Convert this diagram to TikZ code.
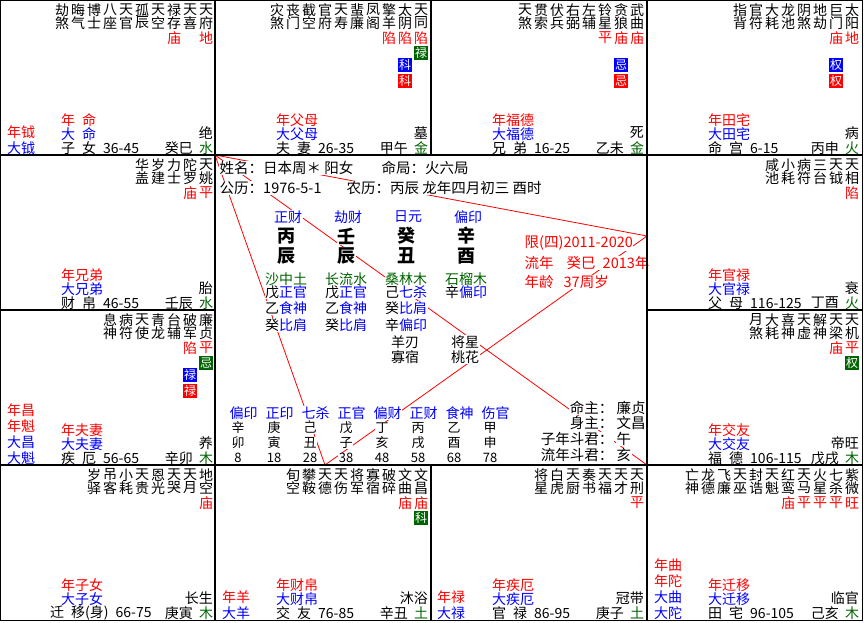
\documentclass[tikz,border=0pt]{standalone}
\usepackage{fontspec}
\setmainfont{Noto Sans CJK SC}
\definecolor{NianClr}{RGB}{255,0,0}
\definecolor{DaClr}{RGB}{0,0,255}
\definecolor{WxClr}{RGB}{0,100,0}
\definecolor{LineClr}{RGB}{255,0,0}

\newcommand{\kong}{\hspace{7pt}}
% star columns of one palace, from the right edge
\newcommand{\Xing}[4]{%
  \foreach \a/\b [count=\i from 0] in {#4}{
    \node[xing] (#1-x\i) at ({#2-7-16*\i},{#3+10}) {\a};
    \node[xing] (#1-y\i) at ({#2-7-16*\i},{#3+23}) {\b};
  }}
% palace names, bottom left
\newcommand{\GongL}[7][61]{%
  \node[gname,text=NianClr] (#2-nian) at ({#3+61},{#4+120}) {#5};
  \node[gname,text=DaClr] (#2-da) at ({#3+61},{#4+134}) {#6};
  \node[gname] (#2-ming) at ({#3+#1},{#4+148}) {#7};}
% ganzhi, wuxing and stage, bottom right
\newcommand{\GongR}[6]{%
  \node[gname,anchor=east] (#1-gz) at ({#2-20},{#3+148}) {#4};
  \node[gname,anchor=center,text=WxClr] (#1-wx) at ({#2-7},{#3+148}) {#5};
  \node[gname,anchor=east] (#1-cs) at ({#2},{#3+133}) {#6};}

\begin{document}
\begin{tikzpicture}[x=1pt,y=-1pt,
  grid/.style={line width=1.2pt},
  sanfang/.style={draw=LineClr,line width=0.8pt},
  xing/.style={inner sep=0pt,font=\fontsize{14}{14}\selectfont},
  liang/.style={inner sep=0pt,text=NianClr,font=\fontsize{14}{14}\selectfont},
  hua/.style={inner sep=0pt,minimum size=14pt,text=white,font=\fontsize{12}{12}\selectfont},
  gname/.style={inner sep=0pt,anchor=west,font=\fontsize{14}{14}\selectfont},
  fu/.style={inner sep=0pt,anchor=west,font=\fontsize{14}{14}\selectfont},
  info/.style={inner sep=0.5pt,fill=white,anchor=west,font=\fontsize{14.5}{15}\selectfont},
  zhong/.style={inner sep=0.5pt,fill=white,font=\fontsize{14}{14}\selectfont},
  gan/.style={inner sep=0.5pt,fill=white,font=\fontsize{18}{18}\bfseries},
  dy/.style={inner sep=0.5pt,fill=white,font=\fontsize{13}{13}\selectfont}]
\useasboundingbox (0,0) rectangle (864,622);

% sanfang sizheng
\coordinate (pSi) at (215,155);
\coordinate (pHai) at (647,465);
\coordinate (pChou) at (325,465);
\coordinate (pYou) at (647,236);
\draw[sanfang] (pSi) -- (pHai);
\draw[sanfang] (pSi) -- (pYou) -- (pChou) -- cycle;

% 巳
\Xing{si}{213}{0}{天/府,天/喜,禄/存,天/空,孤/辰,天/官,八/座,博/士,晦/气,劫/煞}
\node[liang] (si-l0) at (206,38) {地};
\node[liang] (si-l2) at (174,38) {庙};
\node[fu,text=NianClr] (si-f1) at (7,132) {年钺};
\node[fu,text=DaClr] (si-f2) at (7,148) {大钺};
\GongL{si}{0}{0}{年\kong{}命}{大\kong{}命}{子\kong{}女\kong{}36-45}
\GongR{si}{213}{0}{癸巳}{水}{绝}

% 午
\Xing{wu}{428}{0}{天/同,太/阴,擎/羊,凤/阁,蜚/廉,天/寿,官/府,截/空,丧/门,灾/煞}
\node[liang] (wu-l0) at (421,38) {陷};
\node[liang] (wu-l1) at (405,38) {陷};
\node[liang] (wu-l2) at (389,38) {陷};
\node[hua,fill=WxClr] (wu-h0) at (421,53) {禄};
\node[hua,fill=DaClr] (wu-h1) at (405,65) {科};
\node[hua,fill=NianClr] (wu-h2) at (405,81) {科};
\GongL{wu}{215}{0}{年父母}{大父母}{夫\kong{}妻\kong{}26-35}
\GongR{wu}{428}{0}{甲午}{金}{墓}

% 未
\Xing{wei}{644}{0}{武/曲,贪/狼,铃/星,左/辅,右/弼,伏/兵,贯/索,天/煞}
\node[liang] (wei-l0) at (637,38) {庙};
\node[liang] (wei-l1) at (621,38) {庙};
\node[liang] (wei-l2) at (605,38) {平};
\node[hua,fill=DaClr] (wei-h1) at (621,65) {忌};
\node[hua,fill=NianClr] (wei-h2) at (621,81) {忌};
\GongL{wei}{431}{0}{年福德}{大福德}{兄\kong{}弟\kong{}16-25}
\GongR{wei}{644}{0}{乙未}{金}{死}

% 申
\Xing{shen}{859}{0}{太/阳,巨/门,地/劫,阴/煞,龙/池,大/耗,官/符,指/背}
\node[liang] (shen-l0) at (852,38) {地};
\node[liang] (shen-l1) at (836,38) {庙};
\node[hua,fill=DaClr] (shen-h1) at (836,65) {权};
\node[hua,fill=NianClr] (shen-h2) at (836,81) {权};
\GongL{shen}{647}{0}{年田宅}{大田宅}{命\kong{}宫\kong{}6-15}
\GongR{shen}{859}{0}{丙申}{火}{病}

% 酉
\Xing{you}{859}{155}{天/相,天/钺,三/台,病/符,小/耗,咸/池}
\node[liang] (you-l0) at (852,193) {陷};
\GongL{you}{647}{155}{年官禄}{大官禄}{父\kong{}母\kong{}116-125}
\GongR{you}{859}{155}{丁酉}{火}{衰}

% 戌
\Xing{xu}{859}{310}{天/机,天/梁,解/神,天/虚,喜/神,大/耗,月/煞}
\node[liang] (xu-l0) at (852,348) {平};
\node[liang] (xu-l1) at (836,348) {庙};
\node[hua,fill=WxClr] (xu-h0) at (852,363) {权};
\GongL{xu}{647}{310}{年交友}{大交友}{福\kong{}德\kong{}106-115}
\GongR{xu}{859}{310}{戊戌}{木}{帝旺}

% 亥
\Xing{hai}{859}{465}{紫/微,七/杀,火/星,天/马,红/鸾,天/魁,封/诰,天/巫,飞/廉,龙/德,亡/神}
\node[liang] (hai-l0) at (852,503) {旺};
\node[liang] (hai-l1) at (836,503) {平};
\node[liang] (hai-l2) at (820,503) {平};
\node[liang] (hai-l3) at (804,503) {平};
\node[liang] (hai-l4) at (788,503) {庙};
\node[fu,text=NianClr] (hai-f1) at (654,565) {年曲};
\node[fu,text=NianClr] (hai-f2) at (654,581) {年陀};
\node[fu,text=DaClr] (hai-f3) at (654,597) {大曲};
\node[fu,text=DaClr] (hai-f4) at (654,613) {大陀};
\GongL{hai}{647}{465}{年迁移}{大迁移}{田\kong{}宅\kong{}96-105}
\GongR{hai}{859}{465}{己亥}{木}{临官}

% 子
\Xing{zi}{644}{465}{天/刑,天/才,天/福,奏/书,天/厨,白/虎,将/星}
\node[liang] (zi-l0) at (637,503) {平};
\node[fu,text=NianClr] (zi-f1) at (437,597) {年禄};
\node[fu,text=DaClr] (zi-f2) at (437,613) {大禄};
\GongL{zi}{431}{465}{年疾厄}{大疾厄}{官\kong{}禄\kong{}86-95}
\GongR{zi}{644}{465}{庚子}{土}{冠带}

% 丑
\Xing{chou}{428}{465}{文/昌,文/曲,破/碎,寡/宿,将/军,天/伤,天/德,攀/鞍,旬/空}
\node[liang] (chou-l0) at (421,503) {庙};
\node[liang] (chou-l1) at (405,503) {庙};
\node[hua,fill=WxClr] (chou-h0) at (421,518) {科};
\node[fu,text=NianClr] (chou-f1) at (222,597) {年羊};
\node[fu,text=DaClr] (chou-f2) at (222,613) {大羊};
\GongL{chou}{215}{465}{年财帛}{大财帛}{交\kong{}友\kong{}76-85}
\GongR{chou}{428}{465}{辛丑}{土}{沐浴}

% 寅
\Xing{yin}{213}{465}{地/空,天/月,天/哭,恩/光,天/贵,小/耗,吊/客,岁/驿}
\node[liang] (yin-l0) at (206,503) {庙};
\GongL[50]{yin}{0}{465}{年子女}{大子女}{迁\kong{}移(身)\kong{}66-75}
\GongR{yin}{213}{465}{庚寅}{木}{长生}

% 卯
\Xing{mao}{213}{310}{廉/贞,破/军,台/辅,青/龙,天/使,病/符,息/神}
\node[liang] (mao-l0) at (206,348) {平};
\node[liang] (mao-l1) at (190,348) {陷};
\node[hua,fill=WxClr] (mao-h0) at (206,363) {忌};
\node[hua,fill=DaClr] (mao-h1) at (190,375) {禄};
\node[hua,fill=NianClr] (mao-h2) at (190,391) {禄};
\node[fu,text=NianClr] (mao-f1) at (7,410) {年昌};
\node[fu,text=NianClr] (mao-f2) at (7,426) {年魁};
\node[fu,text=DaClr] (mao-f3) at (7,442) {大昌};
\node[fu,text=DaClr] (mao-f4) at (7,458) {大魁};
\GongL{mao}{0}{310}{年夫妻}{大夫妻}{疾\kong{}厄\kong{}56-65}
\GongR{mao}{213}{310}{辛卯}{木}{养}

% 辰
\Xing{chen}{213}{155}{天/姚,陀/罗,力/士,岁/建,华/盖}
\node[liang] (chen-l0) at (206,193) {平};
\node[liang] (chen-l1) at (190,193) {庙};
\GongL{chen}{0}{155}{年兄弟}{大兄弟}{财\kong{}帛\kong{}46-55}
\GongR{chen}{213}{155}{壬辰}{水}{胎}

% centre
\node[info] (xingming) at (219,168) {姓名：日本周＊\ 阳女};
\node[info] (mingju) at (381,168) {命局：火六局};
\node[info] (gongli) at (219,188) {公历：1976-5-1};
\node[info] (nongli) at (346,188) {农历：丙辰\ 龙年四月初三\ 酉时};

\foreach \ss/\tg/\dz/\ny/\xx [count=\i] in {正财/丙/辰/沙中土/286,劫财/壬/辰/长流水/346,日元/癸/丑/桑林木/406,偏印/辛/酉/石榴木/466}{
  \node[zhong,text=DaClr] (ss\i) at (\xx+2,217) {\ss};
  \node[gan] (tg\i) at (\xx,236) {\tg};
  \node[gan] (dz\i) at (\xx,256) {\dz};
  \node[zhong,text=WxClr] (ny\i) at (\xx,279) {\ny};
}
\node[zhong] (cg1a) at (286,292) {戊\textcolor{DaClr}{正官}};
\node[zhong] (cg1b) at (286,308) {乙\textcolor{DaClr}{食神}};
\node[zhong] (cg1c) at (286,325) {癸\textcolor{DaClr}{比肩}};
\node[zhong] (cg2a) at (346,292) {戊\textcolor{DaClr}{正官}};
\node[zhong] (cg2b) at (346,308) {乙\textcolor{DaClr}{食神}};
\node[zhong] (cg2c) at (346,325) {癸\textcolor{DaClr}{比肩}};
\node[zhong] (cg3a) at (406,292) {己\textcolor{DaClr}{七杀}};
\node[zhong] (cg3b) at (406,308) {癸\textcolor{DaClr}{比肩}};
\node[zhong] (cg3c) at (406,325) {辛\textcolor{DaClr}{偏印}};
\node[zhong] (cg4a) at (466,292) {辛\textcolor{DaClr}{偏印}};

\node[zhong] (ss-yr) at (405,342) {羊刃};
\node[zhong] (ss-gs) at (405,357) {寡宿};
\node[zhong] (ss-jx) at (465,342) {将星};
\node[zhong] (ss-th) at (465,357) {桃花};

\node[info,text=NianClr] (xian) at (524,243) {限(四)2011-2020};
\node[info,text=NianClr] (liunian) at (524,263) {流年\hspace{13pt}癸巳\hspace{7pt}2013年};
\node[info,text=NianClr] (nianling) at (524,282) {年龄\hspace{10pt}37周岁};

\foreach \ss/\gg/\zz/\nn [count=\i from 0] in {偏印/辛/卯/8,正印/庚/寅/18,七杀/己/丑/28,正官/戊/子/38,偏财/丁/亥/48,正财/丙/戌/58,食神/乙/酉/68,伤官/甲/申/78}{
  \node[zhong,text=DaClr] (dyss\i) at ({243.5+36*\i},413) {\ss};
  \node[dy] (dyg\i) at ({238+36*\i},428) {\gg};
  \node[dy] (dyz\i) at ({238+36*\i},443) {\zz};
  \node[dy] (dyn\i) at ({238+36*\i},458) {\nn};
}

\node[info,anchor=east] (mz) at (614,408) {命主：};
\node[info] (mz-v) at (616,408) {廉贞};
\node[info,anchor=east] (sz) at (614,423) {身主：};
\node[info] (sz-v) at (616,423) {文昌};
\node[info,anchor=east] (zndj) at (614,439) {子年斗君：};
\node[info] (zndj-v) at (616,439) {午};
\node[info,anchor=east] (lndj) at (614,455) {流年斗君：};
\node[info] (lndj-v) at (616,455) {亥};

% grid
\draw[grid] (0.6,0.6) rectangle (862.4,620.4);
\draw[grid] (215,0) -- (215,620) (647,0) -- (647,620);
\draw[grid] (431,0) -- (431,155) (431,465) -- (431,620);
\draw[grid] (0,155) -- (862,155) (0,465) -- (862,465);
\draw[grid] (0,310) -- (215,310) (647,310) -- (862,310);
\end{tikzpicture}
\end{document}
